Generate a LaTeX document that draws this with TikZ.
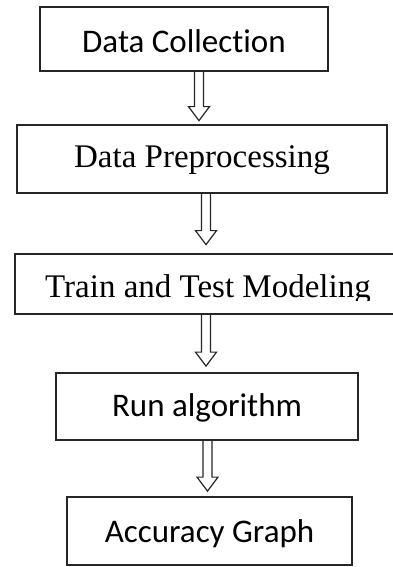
\documentclass[tikz,border=0pt]{standalone}
\usepackage{fontspec}
\newfontfamily\sansf[Ligatures={NoCommon}]{Carlito}
\newfontfamily\seriff{Liberation Serif}
\usetikzlibrary{calc}
\tikzset{
  box/.style={draw=black!85, line width=1.7pt, inner sep=0pt, fill=white, text depth=0pt},
  sanstext/.style={font=\sansf\fontsize{33}{40}\selectfont},
  seriftext/.style={font=\seriff\fontsize{33}{40}\selectfont},
  blockarr/.style={draw=black!85, line width=1.2pt, line join=miter}
}
\newcommand\flowarrow[4]{% from, to, x, gap above target
  \draw[blockarr] let \p1=(#1.south), \p2=(#2.north) in
    (#3pt-4.5pt,\y1) -- (#3pt-4.5pt,\y2+#4pt+14pt) -- (#3pt-10.5pt,\y2+#4pt+14pt)
    -- (#3pt,\y2+#4pt) -- (#3pt+10.5pt,\y2+#4pt+14pt) -- (#3pt+4.5pt,\y2+#4pt+14pt)
    -- (#3pt+4.5pt,\y1);}
\begin{document}
\begin{tikzpicture}[x=1pt,y=1pt]
\clip (0,0) rectangle (393,567);
\fill[white] (0,0) rectangle (393,567);
% boxes (y = 567 - image y)
\node[box, sanstext, minimum width=288pt, minimum height=64pt, text height=28pt] (b1) at (184,528) {Data Collection};
\node[box, seriftext, minimum width=370pt, minimum height=68pt, text height=18pt] (b2) at (202,408) {Data Preprocessing};
\node[box, minimum width=386pt, minimum height=60pt] (b3) at (208,283) {};
\begin{scope}
  \clip (0,266.5) rectangle (393,567);
  \node[seriftext, inner sep=0pt, anchor=base] (t3) at (208,269) {Train and Test Modeling};
\end{scope}
\node[box, sanstext, minimum width=302pt, minimum height=67pt, text height=21pt] (b4) at (207,160.5) {Run algorithm};
\node[box, sanstext, minimum width=285pt, minimum height=68pt, text height=24pt] (b5) at (209.5,36) {Accuracy Graph};
% arrows
\flowarrow{b1}{b2}{199}{3.5}
\flowarrow{b2}{b3}{206}{8.5}
\flowarrow{b3}{b4}{206}{6}
\flowarrow{b4}{b5}{207.5}{5}
\end{tikzpicture}
\end{document}
